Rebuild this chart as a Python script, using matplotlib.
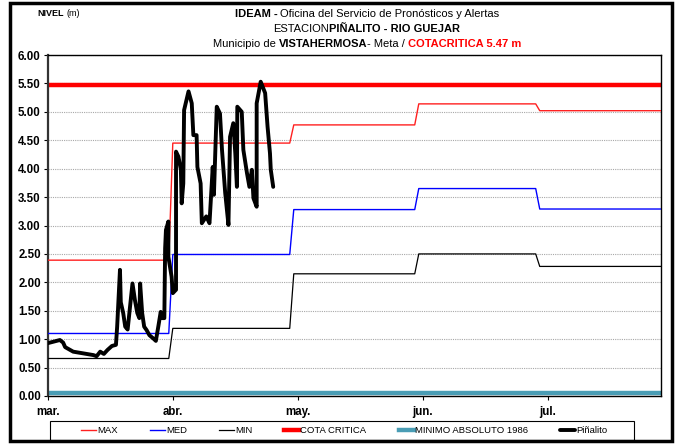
import numpy as np
import matplotlib
matplotlib.use("Agg")
import matplotlib.pyplot as plt
from matplotlib.patches import Rectangle

# ---------------- data ----------------
month_labels = ["mar.", "abr.", "may.", "jun.", "jul."]
month_lengths = [31, 30, 31, 30, 31]          # Mar..Jul
tick_days = [0, 31, 62, 93, 124]
max_vals = [2.39, 4.45, 4.77, 5.14, 5.02]
med_vals = [1.10, 2.49, 3.28, 3.65, 3.29]
min_vals = [0.66, 1.19, 2.15, 2.50, 2.28]
cota_critica = 5.47
minimo_absoluto = 0.05

pin_days = [0, 3.0, 3.8, 4.3, 6.3, 8.8, 11.3, 12.1, 13.0, 13.9, 14.8, 15.9, 16.9,
            17.2, 17.9, 18.1, 18.7, 19.2, 19.8, 21.0, 21.6, 22.2, 22.7, 22.9, 23.4,
            23.9, 24.5, 25.2, 26.2, 26.8, 27.4, 28.0, 28.4, 28.9, 29.1, 29.3, 29.9,
            29.9, 30.7, 31.0, 31.8, 31.8, 32.4, 33.0, 33.2, 33.6, 33.8, 34.9, 35.7,
            36.1, 36.9, 37.1, 37.9, 38.2, 39.3, 40.1, 40.9, 41.2, 41.9, 42.7, 43.2,
            44.0, 44.8, 45.2, 46.0, 46.5, 46.9, 47.0, 48.1, 48.5, 49.4, 50.0, 50.6,
            51.0, 51.8, 51.8, 52.8, 53.9, 54.5, 55.1, 55.3, 55.9]
pin_vals = [0.93, 0.985, 0.94, 0.86, 0.78, 0.75, 0.72, 0.70, 0.78, 0.74, 0.81, 0.88, 0.90,
            1.22, 2.22, 1.65, 1.46, 1.22, 1.17, 1.98, 1.69, 1.46, 1.37, 1.98, 1.46,
            1.22, 1.16, 1.07, 1.01, 0.97, 1.22, 1.48, 1.37, 1.37, 2.60, 2.92, 3.07,
            2.45, 2.10, 1.81, 1.87, 4.30, 4.21, 3.98, 3.39, 3.74, 5.03, 5.36, 5.15,
            4.59, 4.59, 4.03, 3.74, 3.04, 3.16, 3.04, 4.03, 3.54, 5.09, 4.97, 4.33,
            3.57, 3.01, 4.56, 4.80, 4.27, 3.68, 5.09, 5.00, 4.33, 3.92, 3.68, 3.98,
            3.48, 3.33, 5.15, 5.53, 5.33, 4.74, 4.27, 3.98, 3.68]

# ---------------- fonts ----------------
FONT = ["Liberation Sans", "DejaVu Sans"]
plt.rcParams['font.family'] = FONT

W, H = 684, 447
fig = plt.figure(figsize=(W / 100, H / 100), dpi=100)

# outer frame
fig.patches.append(Rectangle((10 / W, 1 - 441 / H), 662 / W, 438 / H, transform=fig.transFigure,
                             fill=False, edgecolor="black", linewidth=2.5, zorder=0))

ax = fig.add_axes([47.8 / W, 1 - 396 / H, (660.7 - 47.8) / W, (396 - 55) / H])

days = np.arange(sum(month_lengths))
max_daily = np.repeat(max_vals, month_lengths)
med_daily = np.repeat(med_vals, month_lengths)
min_daily = np.repeat(min_vals, month_lengths)

l_max, = ax.plot(days, max_daily, color="#FF2020", lw=1.0, label="MAX", zorder=3)
l_med, = ax.plot(days, med_daily, color="#0000FF", lw=1.0, label="MED", zorder=3)
l_min, = ax.plot(days, min_daily, color="black", lw=0.9, label="MIN", zorder=3)
l_cota = ax.axhline(cota_critica, color="#FF0000", lw=3.2, label="COTA CRITICA", zorder=2)
l_minabs = ax.axhline(minimo_absoluto, color="#4A9DB5", lw=3.2, label="MINIMO ABSOLUTO 1986", zorder=2)
l_pin, = ax.plot(pin_days, pin_vals, color="black", lw=2.8, solid_joinstyle="round",
                 solid_capstyle="round", label="Piñalito", zorder=5)

ax.set_xlim(0, 152)
ax.set_ylim(0, 6)
yt = np.arange(0, 6.01, 0.5)
ax.set_yticks(yt)
ax.set_yticklabels([f"{v:.2f}" for v in yt], fontweight="bold", fontsize=8.3)
ax.set_xticks(tick_days)
ax.set_xticklabels(month_labels, fontweight="bold", fontsize=8.3)
ax.tick_params(axis="both", direction="out", length=3, width=0.8, pad=2)
ax.tick_params(axis="x", pad=4)
ax.yaxis.grid(True, color="#a8a8a8", linestyle=(0, (1, 1)), lw=0.8)
ax.set_axisbelow(True)
for s in ax.spines.values():
    s.set_color("black")
    s.set_linewidth(1.0)
ax.spines["left"].set_linewidth(1.6)
ax.spines["left"].set_color("#333333")

# legend (frame drawn separately to match the reference box)
fig.patches.append(Rectangle((50 / W, 1 - 440 / H), 584 / W, 19 / H, transform=fig.transFigure,
                             fill=False, edgecolor="black", linewidth=0.8, zorder=1))
leg = fig.legend(handles=[l_max, l_med, l_min, l_cota, l_minabs, l_pin],
                 loc="center", bbox_to_anchor=(344 / W, 1 - 430.5 / H),
                 ncol=6, fontsize=6.8, handlelength=1.6, handletextpad=0.1,
                 columnspacing=3.4, frameon=False, borderaxespad=0, borderpad=0)

# rich title text
renderer = fig.canvas.get_renderer()

def rich_line(pieces, y, x_center=None, x_left=None, fs=8.0):
    """pieces: list of (text, weight, color, gap_after_px)"""
    objs = []
    widths = []
    for txt, wt, col, gap in pieces:
        t = fig.text(0, y, txt, fontsize=fs, fontweight=wt, color=col, va="center", ha="left")
        bb = t.get_window_extent(renderer=renderer)
        objs.append((t, gap))
        widths.append(bb.width)
    total = sum(widths) + sum(g for _, g in objs[:-1])
    x = (x_center * W - total / 2) if x_center is not None else x_left * W
    for (t, gap), w in zip(objs, widths):
        t.set_x(x / W)
        x += w + gap

rich_line([("NIVEL", "bold", "black", 3), ("(m)", "normal", "black", 0)], 1 - 14 / H, x_left=37 / W, fs=6.5)
rich_line([("IDEAM -", "bold", "black", 3),
           ("Oficina del Servicio de Pronósticos y Alertas", "normal", "black", 0)],
          1 - 14 / H, x_center=367 / W)
rich_line([("ESTACION", "normal", "black", 0), ("PIÑALITO - RIO GUEJAR", "bold", "black", 0)],
          1 - 29 / H, x_center=367 / W)
rich_line([("Municipio de", "normal", "black", 3), ("VISTAHERMOSA", "bold", "black", 0),
           ("- Meta /", "normal", "black", 3), ("COTACRITICA 5.47 m", "bold", "#FF0000", 0)],
          1 - 44 / H, x_center=367 / W)

fig.savefig("out.png", dpi=100)
